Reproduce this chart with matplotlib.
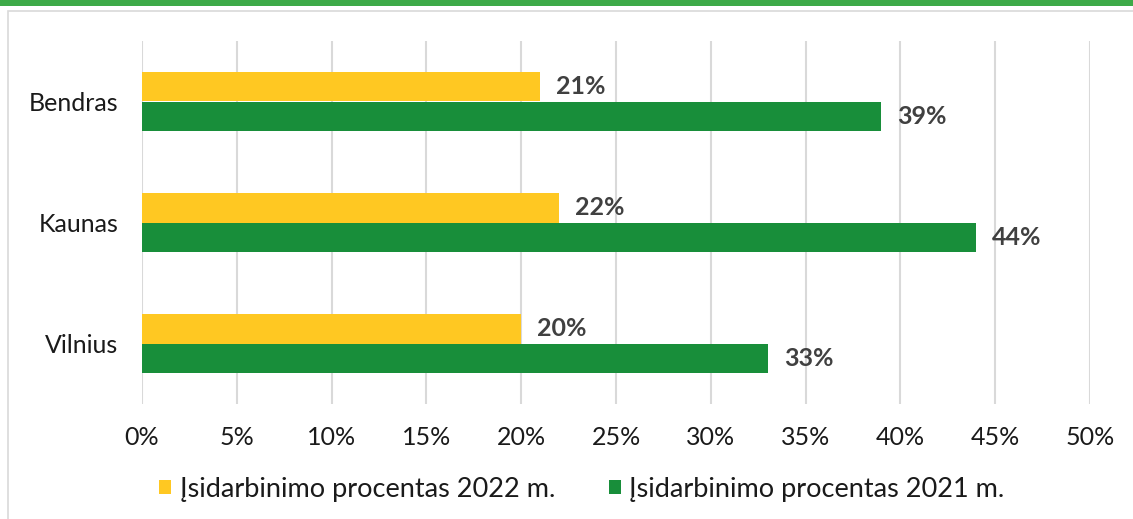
import matplotlib.pyplot as plt
import matplotlib.patches as patches
import numpy as np

# data
cities = ["Bendras", "Kaunas", "Vilnius"]
pct_2022 = [21, 22, 20]
pct_2021 = [39, 44, 33]
series_names = ["Įsidarbinimo procentas 2022 m.", "Įsidarbinimo procentas 2021 m."]
xticks = [0, 5, 10, 15, 20, 25, 30, 35, 40, 45, 50]

YELLOW = "#FFC822"
GREEN = "#188E3A"
LABEL_COL = "#404040"

plt.rcParams['font.family'] = ['Lato', 'DejaVu Sans']

W, H = 1133, 519
fig = plt.figure(figsize=(W / 100, H / 100), dpi=100)

# frame and top stripe
fig.patches.append(patches.Rectangle((8 / W, -0.1), 1.1, (519 - 11) / H + 0.1,
                                     transform=fig.transFigure, fill=False,
                                     edgecolor="#d9d9d9", linewidth=1.2))
fig.patches.append(patches.Rectangle((0, (519 - 6) / H), 1, 6 / H,
                                     transform=fig.transFigure, color="#3DAA48",
                                     linewidth=0))

ax = fig.add_axes([142 / W, (519 - 404) / H, (1090 - 142) / W, (404 - 41) / H])

y = np.arange(len(cities))
h = 0.24
b1 = ax.barh(y - h / 2, pct_2022, height=h, color=YELLOW, label=series_names[0])
b2 = ax.barh(y + h / 2, pct_2021, height=h, color=GREEN, label=series_names[1])

for bars, vals in ((b1, pct_2022), (b2, pct_2021)):
    for bar, v in zip(bars, vals):
        ax.annotate(f"{v}%", (v, bar.get_y() + bar.get_height() / 2),
                    xytext=(16, 0), textcoords="offset pixels",
                    va="center", ha="left", fontsize=18, fontweight="bold",
                    color=LABEL_COL)

ax.set_ylim(len(cities) - 0.5, -0.5)
ax.set_xlim(0, 50)
ax.set_yticks(y)
ax.set_yticklabels(cities, fontsize=18, color="#1a1a1a")
ax.set_xticks(xticks)
ax.set_xticklabels([f"{t}%" for t in xticks], fontsize=18, color="#1a1a1a")
ax.tick_params(length=0)
ax.tick_params(axis="y", pad=17)
ax.tick_params(axis="x", pad=16)
for s in ax.spines.values():
    s.set_visible(False)
ax.grid(axis="x", color="#d9d9d9", linewidth=1.5)
ax.set_axisbelow(True)

ax.legend(loc="center", bbox_to_anchor=(582 / W, (519 - 489) / H),
          bbox_transform=fig.transFigure, ncol=2, frameon=False, fontsize=19.5,
          handlelength=0.45, handleheight=0.45, handletextpad=0.3,
          columnspacing=2.0, labelcolor="#1a1a1a")

fig.savefig("out.png", dpi=100)
